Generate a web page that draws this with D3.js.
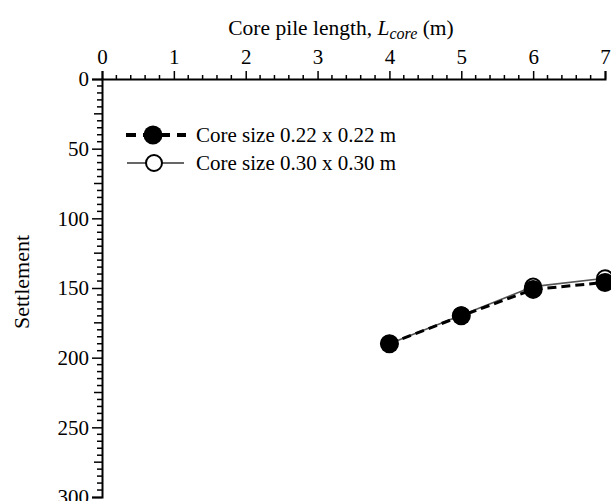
<!DOCTYPE html>
<html>
<head>
<meta charset="utf-8">
<script src="https://cdn.jsdelivr.net/npm/d3@7"></script>
<style>
  body { margin: 0; background: #fff; }
  svg { display: block; font-family: "Liberation Serif", "Times New Roman", serif; }
</style>
</head>
<body>
<div id="chart"></div>
<script>
var lengths = [4, 5, 6, 7];
var settle22 = [190, 170, 151, 146];   // core 0.22 x 0.22 m
var settle30 = [190, 169.5, 149, 143]; // core 0.30 x 0.30 m
var xTicks = [0, 1, 2, 3, 4, 5, 6, 7];
var yTicks = [0, 50, 100, 150, 200, 250, 300];
var legendLabels = ["Core size 0.22 x 0.22 m", "Core size 0.30 x 0.30 m"];

var w = 611, h = 501;
var x0 = 102, x1 = 605, y0 = 79, y1 = 497;

var svg = d3.select("#chart").append("svg")
    .attr("width", w)
    .attr("height", h);

var x = d3.scaleLinear().domain([0, 7]).range([x0, x1]);
var y = d3.scaleLinear().domain([0, 300]).range([y0, y1]);

// minor ticks, x every 0.2
var xMinor = d3.range(0, 7.01, 0.2).filter(function(d) { return Math.abs(d - Math.round(d)) > 0.01; });
svg.append("g").selectAll("line")
    .data(xMinor)
    .enter().append("line")
    .attr("x1", function(d) { return x(d); })
    .attr("x2", function(d) { return x(d); })
    .attr("y1", y0)
    .attr("y2", y0 - 4)
    .attr("stroke", "#000")
    .attr("stroke-width", 1.5);

// minor ticks, y every 5, longer every 25
var yMinor = d3.range(5, 300, 5).filter(function(d) { return d % 50 != 0; });
svg.append("g").selectAll("line")
    .data(yMinor)
    .enter().append("line")
    .attr("y1", function(d) { return y(d); })
    .attr("y2", function(d) { return y(d); })
    .attr("x1", x0)
    .attr("x2", function(d) { return d % 25 == 0 ? x0 - 8 : x0 - 5; })
    .attr("stroke", "#000")
    .attr("stroke-width", 1.5);

var xAxis = svg.append("g")
    .attr("transform", "translate(0," + y0 + ")")
    .call(d3.axisTop(x).tickValues(xTicks).tickFormat(d3.format("d")).tickSize(8).tickPadding(7));

var yAxis = svg.append("g")
    .attr("transform", "translate(" + x0 + ",0)")
    .call(d3.axisLeft(y).tickValues(yTicks).tickSize(10).tickPadding(3));

[xAxis, yAxis].forEach(function(g) {
  g.select(".domain").attr("stroke-width", 2);
  g.selectAll(".tick line").attr("stroke-width", 1.5);
  g.selectAll("text")
   .attr("font-family", "Liberation Serif")
   .attr("font-size", 21)
   .attr("fill", "#000");
});
xAxis.selectAll("text").attr("dy", "0em");

// axis titles
var title = svg.append("text")
    .attr("x", 341)
    .attr("y", 35)
    .attr("text-anchor", "middle")
    .attr("font-size", 21.5);
title.append("tspan").text("Core pile length, ");
title.append("tspan").attr("font-style", "italic").text("L");
title.append("tspan").attr("font-style", "italic").attr("font-size", 16).attr("dy", 4).text("core");
title.append("tspan").attr("dy", -4).text(" (m)");

svg.append("text")
    .attr("transform", "translate(29,282) rotate(-90)")
    .attr("text-anchor", "middle")
    .attr("font-size", 22)
    .text("Settlement");

// series
var line = d3.line()
    .x(function(d) { return x(d[0]); })
    .y(function(d) { return y(d[1]); });

var s30 = d3.zip(lengths, settle30);
var s22 = d3.zip(lengths, settle22);

svg.append("path")
    .datum(s30)
    .attr("d", line)
    .attr("fill", "none")
    .attr("stroke", "#555")
    .attr("stroke-width", 1.6);

svg.selectAll(".p30")
    .data(s30)
    .enter().append("circle")
    .attr("class", "p30")
    .attr("cx", function(d) { return x(d[0]); })
    .attr("cy", function(d) { return y(d[1]); })
    .attr("r", 8)
    .attr("fill", "#fff")
    .attr("stroke", "#000")
    .attr("stroke-width", 2);

svg.append("path")
    .datum(s22)
    .attr("d", line)
    .attr("fill", "none")
    .attr("stroke", "#000")
    .attr("stroke-width", 3)
    .attr("stroke-dasharray", "9,5");

svg.selectAll(".p22")
    .data(s22)
    .enter().append("circle")
    .attr("class", "p22")
    .attr("cx", function(d) { return x(d[0]); })
    .attr("cy", function(d) { return y(d[1]); })
    .attr("r", 9.5)
    .attr("fill", "#000");

// legend
var leg = svg.append("g");
var rows = [135, 163];

leg.append("line")
    .attr("x1", 126).attr("x2", 186)
    .attr("y1", rows[0]).attr("y2", rows[0])
    .attr("stroke", "#000").attr("stroke-width", 4)
    .attr("stroke-dasharray", "10,7");
leg.append("circle")
    .attr("cx", 153).attr("cy", rows[0]).attr("r", 9.5).attr("fill", "#000");

leg.append("line")
    .attr("x1", 127).attr("x2", 184)
    .attr("y1", rows[1]).attr("y2", rows[1])
    .attr("stroke", "#666").attr("stroke-width", 2);
leg.append("circle")
    .attr("cx", 154).attr("cy", rows[1]).attr("r", 8)
    .attr("fill", "#fff").attr("stroke", "#000").attr("stroke-width", 2);

leg.selectAll("text")
    .data(legendLabels)
    .enter().append("text")
    .attr("x", 196)
    .attr("y", function(d, i) { return rows[i]; })
    .attr("dy", "0.33em")
    .attr("font-size", 21)
    .text(function(d) { return d; });
</script>
</body>
</html>
